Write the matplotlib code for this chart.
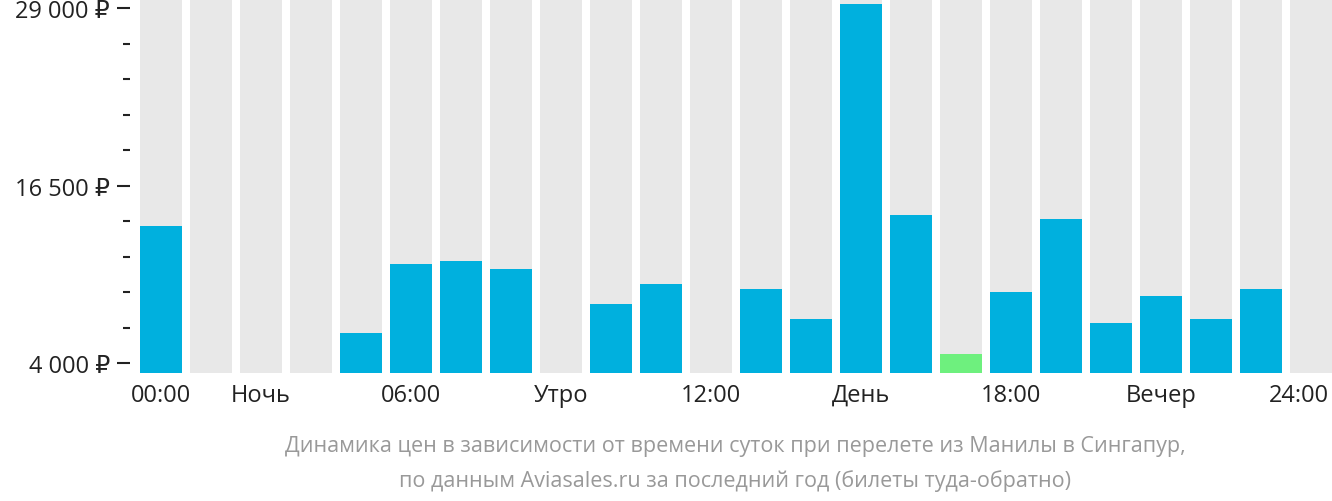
import matplotlib

matplotlib.use("Agg")

import matplotlib.pyplot as plt
from matplotlib.ticker import FixedLocator

plt.rcParams["font.family"] = ["Open Sans", "DejaVu Sans"]

hours = list(range(24))
prices = [13650, 0, 0, 0, 6110, 10970, 11180, 10620, 0, 8150, 9560, 0,
          9210, 7100, 29280, 14420, 4630, 9000, 14140, 6820, 8720, 7100, 9210, 0]
cheapest_hour = 16
major_ticks = [4000, 16500, 29000]
major_labels = ["4 000 ₽", "16 500 ₽", "29 000 ₽"]
minor_ticks = [6500, 9000, 11500, 14000, 19000, 21500, 24000, 26500]
x_label_pos = [0, 2, 5, 8, 11, 14, 17, 20, 22.75]
x_labels = ["00:00", "Ночь", "06:00", "Утро", "12:00", "День", "18:00", "Вечер", "24:00"]
caption = ("Динамика цен в зависимости от времени суток при перелете из Манилы в Сингапур,\n"
           "по данным Aviasales.ru за последний год (билеты туда-обратно)")

y_min, y_max = 3300, 29634

fig = plt.figure(figsize=(13.32, 5.02), dpi=100)
ax = fig.add_axes([140 / 1332, (502 - 374) / 502, 1192 / 1332, 374 / 502])

ax.bar(hours, [y_max - y_min] * 24, bottom=y_min, width=0.84, color="#e8e8e8")
colors = ["#6ef07e" if h == cheapest_hour else "#00b0de" for h in hours]
ax.bar(hours, [p - y_min if p else 0 for p in prices], bottom=y_min, width=0.84, color=colors)

ax.set_xlim(-0.42, 23.42)
ax.set_ylim(y_min, y_max)
for s in ax.spines.values():
    s.set_visible(False)
ax.spines["left"].set_position(("outward", 7.2))

ax.yaxis.set_major_locator(FixedLocator(major_ticks))
ax.set_yticklabels(major_labels, fontsize=17, color="#222222")
ax.yaxis.set_minor_locator(FixedLocator(minor_ticks))
ax.tick_params(axis="y", which="major", length=9.4, width=1.5, color="#222222", pad=5)
ax.tick_params(axis="y", which="minor", length=5, width=1.5, color="#222222")

ax.set_xticks(x_label_pos)
ax.set_xticklabels(x_labels, fontsize=17, color="#222222")
ax.tick_params(axis="x", length=0, pad=7)

fig.text(0.552, 0.02, caption, ha="center", va="bottom", fontsize=15.5,
         color="#999999", linespacing=1.75)

fig.savefig("out.png", dpi=100)
